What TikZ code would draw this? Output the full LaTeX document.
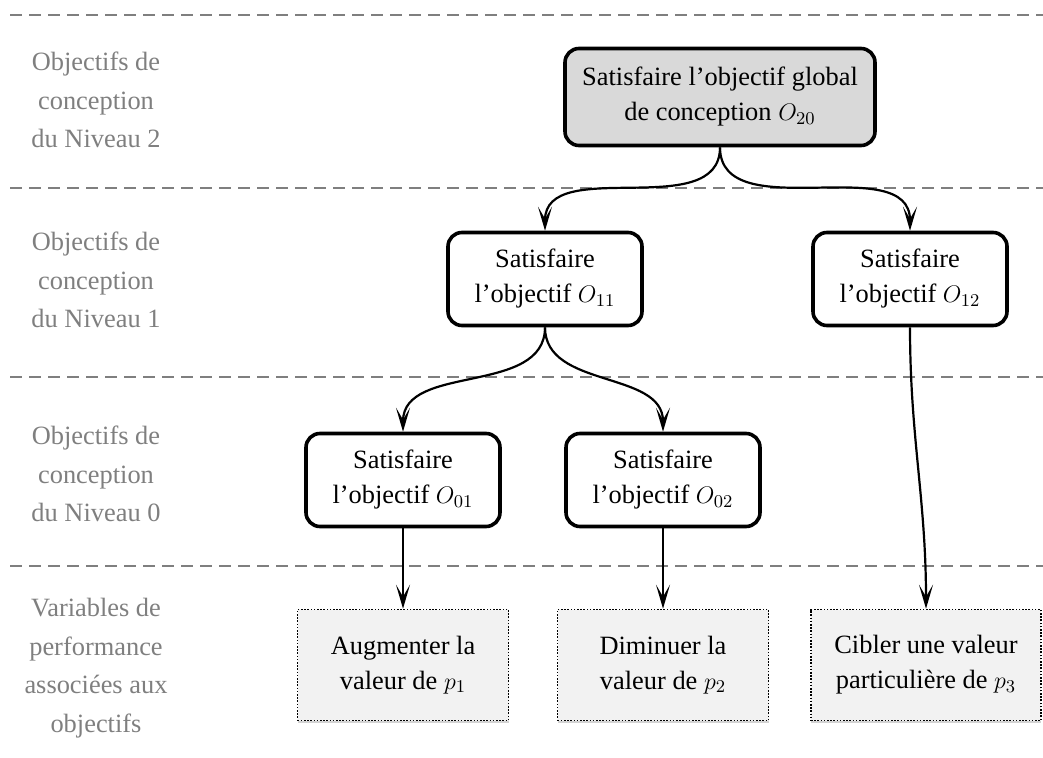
\documentclass[tikz,border=0pt]{standalone}
\usepackage{fontspec}
\setmainfont{Liberation Serif}
\usetikzlibrary{arrows.meta,shadows}
\definecolor{levelgray}{HTML}{7F7F7F}
\definecolor{topfill}{HTML}{D9D9D9}
\definecolor{perffill}{HTML}{F2F2F2}

\begin{document}
\begin{tikzpicture}[x=0.5pt,y=0.5pt,
  every node/.style={font=\fontsize{13.2}{17.5}\selectfont,align=center},
  goal/.style={rectangle,draw,line width=1.8pt,rounded corners=7pt,
    minimum width=97pt,minimum height=46.5pt,inner sep=2pt},
  topgoal/.style={goal,fill=topfill,minimum width=155pt,minimum height=48.5pt},
  perf/.style={rectangle,draw,line width=0.8pt,dash pattern=on 0.8pt off 0.8pt,
    fill=perffill,minimum width=105.5pt,minimum height=55.5pt,
    drop shadow={shadow xshift=0pt,shadow yshift=-1pt,opacity=.35}},
  level/.style={text=levelgray,font=\fontsize{13.2}{19.25}\selectfont},
  sep/.style={levelgray,line width=1.2pt,dash pattern=on 6pt off 3.5pt},
  link/.style={line width=1.1pt,-{Stealth[length=12pt,width=7pt,inset=6pt]}}]
  \useasboundingbox (0,0) rectangle (1043,-758);

  % level separators
  \foreach \y in {15,188,377,566}
    \draw[sep] (10,-\y) -- (1043,-\y);

  % level names
  \node[level] (lvl2) at (96,-100) {Objectifs de\\conception\\du Niveau 2};
  \node[level] (lvl1) at (96,-280) {Objectifs de\\conception\\du Niveau 1};
  \node[level] (lvl0) at (96,-474) {Objectifs de\\conception\\du Niveau 0};
  \node[level] (lvlp) at (96,-668) {Variables de\\performance\\associées aux\\objectifs};

  % goals
  \node[topgoal] (o20) at (720,-97) {Satisfaire l’objectif global\\de conception $O_{20}$};
  \node[goal] (o11) at (545,-279) {Satisfaire\\l’objectif $O_{11}$};
  \node[goal] (o12) at (910,-279) {Satisfaire\\l’objectif $O_{12}$};
  \node[goal] (o01) at (403,-480) {Satisfaire\\l’objectif $O_{01}$};
  \node[goal] (o02) at (663,-480) {Satisfaire\\l’objectif $O_{02}$};

  % performance variables
  \node[perf] (p1) at (403,-665) {Augmenter la\\valeur de $p_1$};
  \node[perf] (p2) at (663,-665) {Diminuer la\\valeur de $p_2$};
  \node[perf,minimum width=115pt] (p3) at (926,-665) {Cibler une valeur\\particulière de $p_3$};

  \draw[link] (o20.south) to[out=-90,in=90] (o11.north);
  \draw[link] (o20.south) to[out=-90,in=90] (o12.north);
  \draw[link] (o11.south) to[out=-90,in=90] (o01.north);
  \draw[link] (o11.south) to[out=-90,in=90] (o02.north);
  \draw[link] (o12.south) to[out=-90,in=90] (p3.north);
  \draw[link] (o01.south) -- (p1.north);
  \draw[link] (o02.south) -- (p2.north);
\end{tikzpicture}
\end{document}
